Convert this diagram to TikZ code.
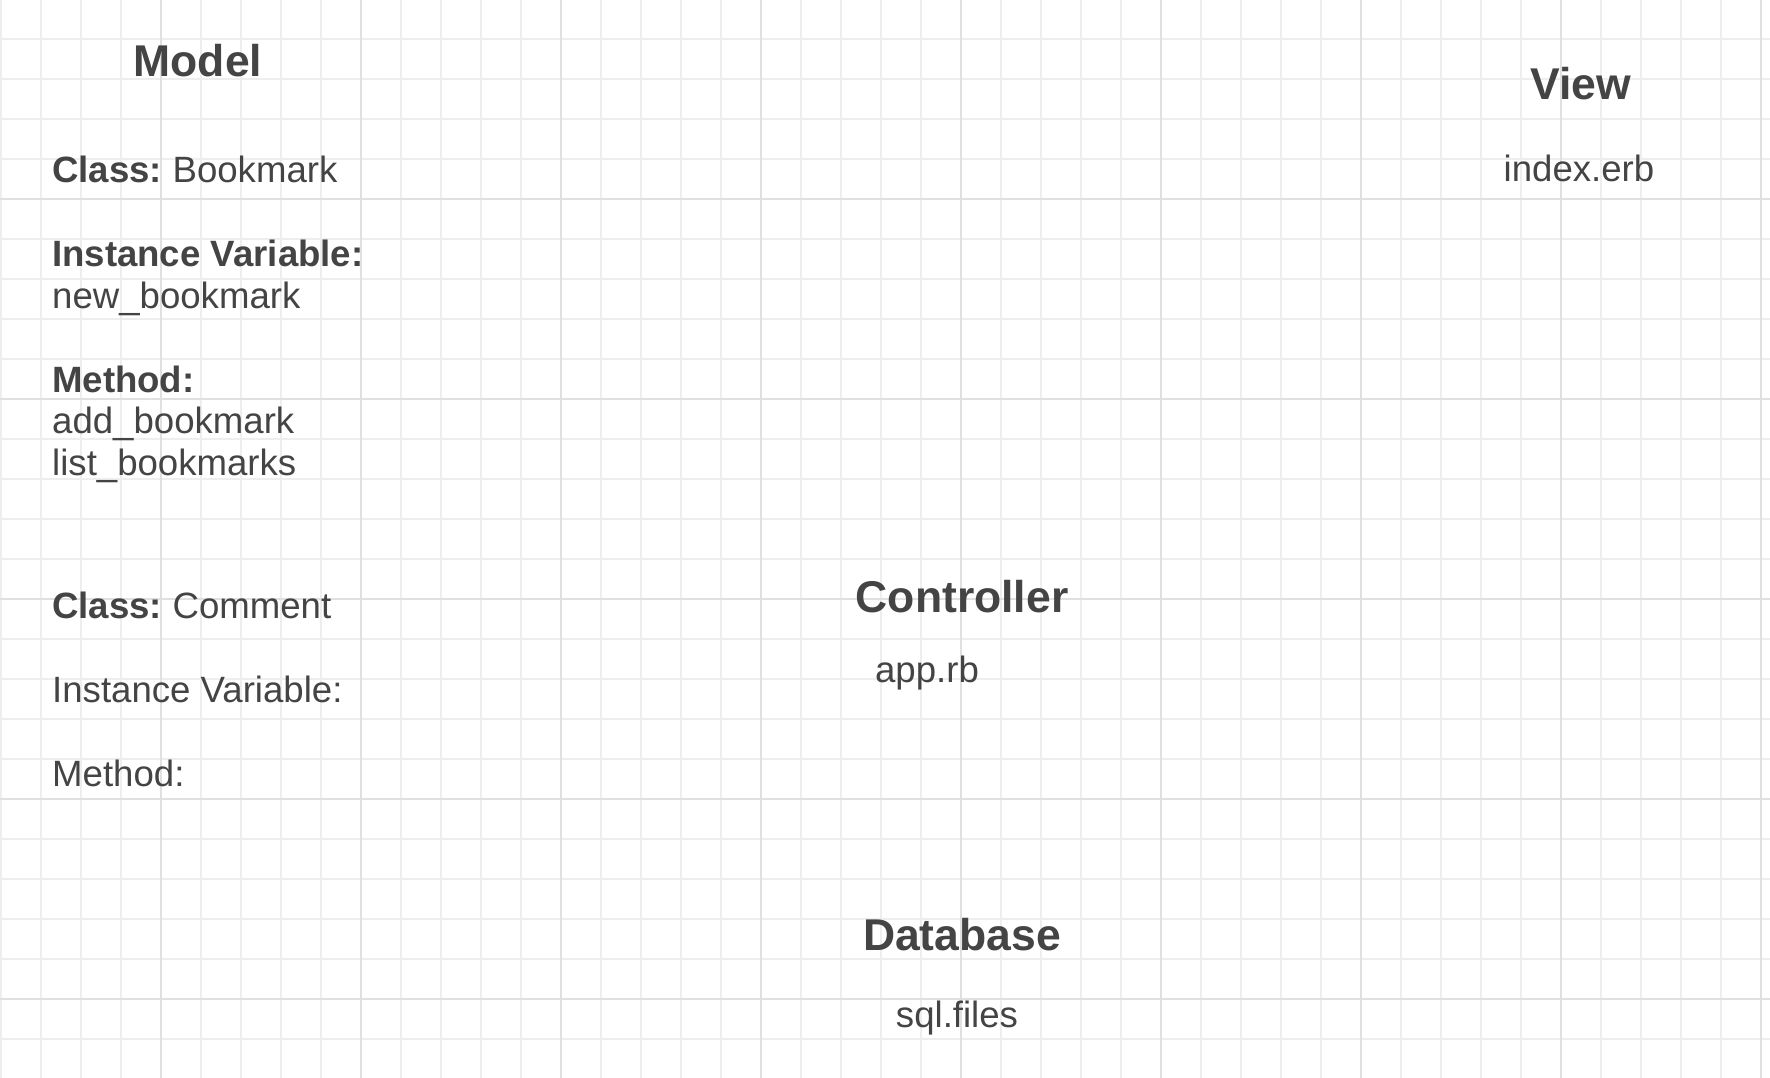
\documentclass[tikz,border=0pt]{standalone}
\usepackage{fontspec}
\setmainfont{Liberation Sans}
\definecolor{gridminor}{HTML}{EEEEEE}
\definecolor{gridmajor}{HTML}{E0E0E0}
\definecolor{textgray}{HTML}{444444}

\begin{document}
\begin{tikzpicture}[x=1pt,y=-1pt,
	minorline/.style={gridminor,line width=1.5pt},
	majorline/.style={gridmajor,line width=1.5pt},
	heading/.style={anchor=base,inner sep=0pt,text=textgray,font=\fontsize{44.5}{52}\selectfont\bfseries},
	entry/.style={anchor=base west,inner sep=0pt,text=textgray,font=\fontsize{36.6}{42}\selectfont},
	centry/.style={entry,anchor=base}
	]
	\useasboundingbox (0,0) rectangle (1770,1078);
	\fill[white] (0,0) rectangle (1770,1078);
	%%%%%%%%%%%%%%% grid
	\foreach \x in {1,41,...,1761} \draw[minorline] (\x,0) -- (\x,1078);
	\foreach \y in {39,79,...,1079} \draw[minorline] (0,\y) -- (1770,\y);
	\foreach \x in {161,361,...,1761} \draw[majorline] (\x,0) -- (\x,1078);
	\foreach \y in {199,399,...,999} \draw[majorline] (0,\y) -- (1770,\y);
	%%%%%%%%%%%%%%% model
	\node[heading] (model) at (198,77) {Model};
	\node[entry] (bmclass) at (52,183) {\textbf{Class:}\hspace{-3pt} Bookmark};
	\node[entry] (bmvarhead) at (52,266) {\textbf{Instance Variable:}};
	\node[entry] (bmvar) at (52,308) {new\_bookmark};
	\node[entry] (bmmethhead) at (52,392) {\textbf{Method:}};
	\node[entry] (bmadd) at (52,433) {add\_bookmark};
	\node[entry] (bmlist) at (52,475) {list\_bookmarks};
	\node[entry] (cmclass) at (52,618) {\textbf{Class:}\hspace{-3pt} Comment};
	\node[entry] (cmvarhead) at (52,702) {Instance Variable:};
	\node[entry] (cmmethhead) at (52,786) {Method:};
	%%%%%%%%%%%%%%% view
	\node[heading] (view) at (1581,100) {View};
	\node[centry] (index) at (1579,182) {index.erb};
	%%%%%%%%%%%%%%% controller
	\node[heading] (controller) at (962,612) {Controller};
	\node[centry] (app) at (927,682) {app.rb};
	%%%%%%%%%%%%%%% database
	\node[heading] (database) at (962,950) {Database};
	\node[centry] (sql) at (957,1027) {sql.files};
\end{tikzpicture}
\end{document}
